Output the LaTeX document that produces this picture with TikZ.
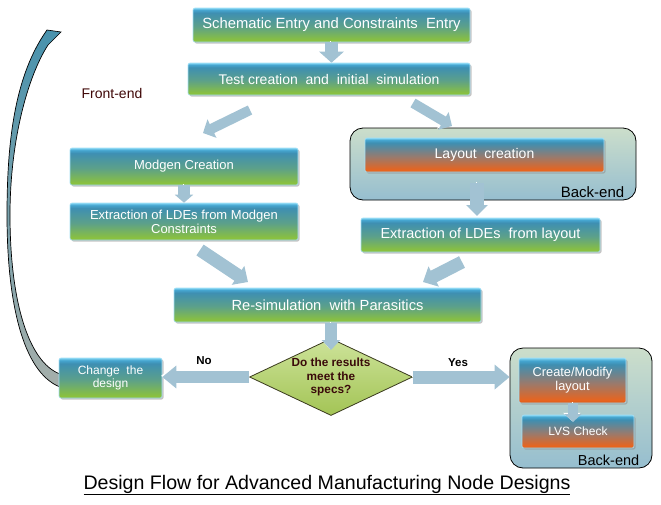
\documentclass[tikz,border=0pt]{standalone}
\usepackage{fontspec}
\setmainfont{Liberation Sans}
\usetikzlibrary{shapes.geometric,arrows.meta,shadows}

\definecolor{bxhl}{HTML}{7FD3F2}
\definecolor{bxtop}{HTML}{45A5CF}
\definecolor{bxmid}{HTML}{3E8FB2}
\definecolor{bxteal}{HTML}{5CA08A}
\definecolor{bxgrn}{HTML}{8CC23C}
\definecolor{bxgrnd}{HTML}{7DB032}
\definecolor{oxmid}{HTML}{9A7A6C}
\definecolor{oxorg}{HTML}{E8641E}
\definecolor{oxorgd}{HTML}{D45A1A}
\definecolor{farrow}{HTML}{A2C2D3}
\definecolor{dmtop}{HTML}{CDE39A}
\definecolor{dmbot}{HTML}{A3C455}
\definecolor{dmedge}{HTML}{3A3A1E}
\definecolor{dtext}{HTML}{3A0A0A}
\definecolor{ftext}{HTML}{400808}
\definecolor{cbl}{HTML}{96BECF}
\definecolor{csg}{HTML}{CCDECB}
\definecolor{cvtop}{HTML}{4892AD}
\definecolor{cvbot}{HTML}{A6AFAB}

\pgfdeclareverticalshading{greenbox}{100bp}{color(0bp)=(bxgrnd); color(25bp)=(bxgrnd); color(27bp)=(bxgrn); color(48bp)=(bxteal); color(68bp)=(bxmid); color(72bp)=(bxtop); color(75bp)=(bxhl); color(100bp)=(bxhl)}
\pgfdeclareverticalshading{orangebox}{100bp}{color(0bp)=(oxorgd); color(25bp)=(oxorgd); color(28bp)=(oxorg); color(47bp)=(oxmid); color(68bp)=(bxmid); color(72bp)=(bxtop); color(75bp)=(bxhl); color(100bp)=(bxhl)}

\tikzset{
  gbox/.style={rectangle, rounded corners=2pt, shading=greenbox, draw=bxhl!70!white,
    line width=0.6pt, text=white, align=center, inner sep=2pt,
    drop shadow={shadow xshift=1.5pt, shadow yshift=-1.5pt, fill=black!45, opacity=0.5}},
  obox/.style={gbox, shading=orangebox},
  container/.style={rectangle, rounded corners=13pt, draw=black, line width=0.8pt,
    shading=axis, shading angle=-40, top color=csg, bottom color=cbl},
  fatarrow/.style n args={3}{draw=farrow, line width=#1, -{Triangle[width=#2,length=#3]},
    preaction={draw=white, transform canvas={xshift=-1.2pt,yshift=1.2pt}}},
  lbl/.style={inner sep=0pt},
}

\begin{document}
\begin{tikzpicture}[x=1pt,y=-1pt]
\useasboundingbox[fill=white] (0,0) rectangle (661,504);

% curved feedback arrow
\draw[line width=0.7pt, top color=cvtop, bottom color=cvbot]
  (60,387) .. controls (22,372) and (7,300) .. (7,215)
  .. controls (7,140) and (15,75) .. (47,30) -- (61,32) -- (48,45)
  .. controls (28,76) and (10,140) .. (10,215)
  .. controls (10,300) and (28,362) .. (60,374) -- cycle;

% containers
\node[container, minimum width=286pt, minimum height=72pt] (be1) at (493,164) {};
\node[container, minimum width=142pt, minimum height=120pt] (be2) at (581,408) {};
\node[lbl, anchor=south east, font=\fontsize{15}{17}\selectfont] (be1t) at ([xshift=-12pt,yshift=3pt]be1.south east) {Back-end};
\node[lbl, anchor=south east, font=\fontsize{14.5}{16}\selectfont] (be2t) at ([xshift=-13pt,yshift=3pt]be2.south east) {Back-end};

% boxes
\node[gbox, minimum width=277pt, minimum height=34pt, font=\fontsize{14.8}{17}\selectfont] (n1) at (331.5,25) {Schematic Entry and Constraints\ \ Entry};
\node[gbox, minimum width=282pt, minimum height=32pt, font=\fontsize{14}{16}\selectfont] (n2) at (329,79) {Test creation\ \ and\ \ initial\ \ simulation};
\node[gbox, minimum width=228pt, minimum height=37pt, font=\fontsize{13}{14}\selectfont] (n3) at (184,166.5) {Modgen Creation};
\node[gbox, minimum width=228pt, minimum height=37pt, font=\fontsize{13}{14}\selectfont] (n4) at (184,221.5) {Extraction of LDEs from Modgen\\Constraints};
\node[obox, minimum width=239pt, minimum height=34pt, font=\fontsize{14}{16}\selectfont] (n5) at (484.5,155) {Layout\ \ creation};
\node[gbox, minimum width=239pt, minimum height=34pt, font=\fontsize{14.5}{16}\selectfont] (n6) at (480.5,235) {Extraction of LDEs\ \ from layout};
\node[gbox, minimum width=307pt, minimum height=34pt, font=\fontsize{14.7}{16}\selectfont] (n7) at (327.5,305) {Re-simulation\ \ with Parasitics};
\node[gbox, minimum width=103pt, minimum height=40pt, font=\fontsize{12}{13.5}\selectfont] (n8) at (110.5,378) {Change\ \ the\\design};
\node[obox, minimum width=107pt, minimum height=45pt, font=\fontsize{12.8}{14}\selectfont] (n9) at (572.5,380.5) {Create/Modify\\layout};
\node[obox, minimum width=112pt, minimum height=33pt, font=\fontsize{12}{13}\selectfont] (n10) at (578,431.5) {LVS Check};

% decision diamond
\node[diamond, aspect=2.1, minimum width=163pt, minimum height=77pt, inner sep=0pt,
  top color=dmtop, bottom color=dmbot, draw=dmedge, line width=0.8pt,
  text=dtext, font=\bfseries\fontsize{11.8}{13.5}\selectfont, align=center] (d) at (331,377)
  {Do the results\\meet the\\specs?};

% labels
\node[lbl, text=ftext, font=\fontsize{14}{16}\selectfont] (fe) at (112,93) {Front-end};
\node[lbl, font=\bfseries\fontsize{11.5}{13}\selectfont] (no) at (204,361) {No};
\node[lbl, font=\bfseries\fontsize{11.5}{13}\selectfont] (yes) at (458,363) {Yes};
\node[lbl, font=\fontsize{19.6}{22}\selectfont] (title) at (327,485) {\underline{Design Flow for Advanced Manufacturing Node Designs}};

% free-end coordinates for the block arrows
\coordinate (a2s) at (250,110); \coordinate (a2e) at (203,133);
\coordinate (a3s) at (413,103); \coordinate (a3e) at (452,126);
\coordinate (a5s) at (477,183); \coordinate (a5e) at (477,216);
\coordinate (a6s) at (200,250); \coordinate (a6e) at (248,282);
\coordinate (a7s) at (462,262); \coordinate (a7e) at (423,282);
\coordinate (a8s) at (331,323); \coordinate (a8e) at (331,350);
\coordinate (a11s) at (573,403); \coordinate (a11e) at (573,422);

% block arrows
\draw[fatarrow={13pt}{24pt}{11pt}] (n1.south) -- (n1.south |- n2.north);
\draw[fatarrow={10pt}{20pt}{10pt}] (a2s) -- (a2e);
\draw[fatarrow={10pt}{20pt}{10pt}] (a3s) -- (a3e);
\draw[fatarrow={12pt}{18pt}{8pt}] (n3.south) -- (n3.south |- n4.north);
\draw[fatarrow={14pt}{21pt}{11pt}] (a5s) -- (a5e);
\draw[fatarrow={13pt}{22pt}{12pt}] (a6s) -- (a6e);
\draw[fatarrow={13pt}{22pt}{12pt}] (a7s) -- (a7e);
\draw[fatarrow={12pt}{18pt}{10pt}] (a8s) -- (a8e);
\draw[fatarrow={12pt}{22pt}{14pt}] (d.west) -- (d.west -| n8.east);
\draw[fatarrow={13pt}{24pt}{15pt}] (d.east) -- (d.east -| be2.west);
\draw[fatarrow={10pt}{17pt}{8pt}] (a11s) -- (a11e);
\end{tikzpicture}
\end{document}
